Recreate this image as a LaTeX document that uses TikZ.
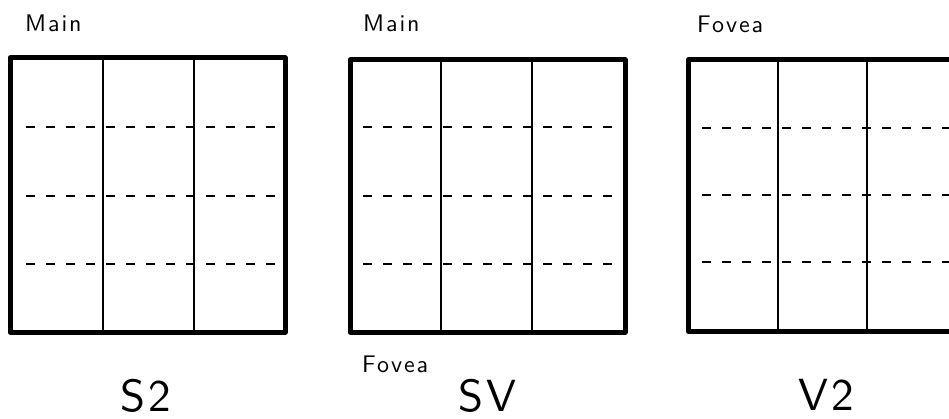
\documentclass[tikz,border=0pt]{standalone}
\usepackage{fontspec}
\newfontfamily\labfont{lmsans10-regular.otf}[LetterSpace=8]
\begin{document}
\begin{tikzpicture}[x=1pt,y=-1pt,
  outer/.style={line width=5pt, line join=round},
  innerline/.style={line width=2.8pt},
  dashline/.style={line width=1.2pt, dash pattern=on 9pt off 11pt},
  small/.style={font=\labfont\fontsize{24}{24}\selectfont, inner sep=0pt, anchor=base west},
  big/.style={font=\labfont\fontsize{45}{45}\selectfont, inner sep=0pt, text depth=0pt, anchor=base west}]
\useasboundingbox (0,0) rectangle (949,419);
\fill[white] (0,0) rectangle (949,419);

% Box S2
\foreach \y in {127,196,264} \draw[dashline] (26,\y) -- (280,\y);
\draw[innerline] (103,58) -- (103,332);
\draw[innerline] (194,58) -- (194,332);
\draw[outer] (10,58) rectangle (285,332);

% Box SV
\foreach \y in {127,196,264} \draw[dashline] (363,\y) -- (618,\y);
\draw[innerline] (441,60) -- (441,332);
\draw[innerline] (532,60) -- (532,332);
\draw[outer] (350,60) rectangle (625,332);

% Box V2
\foreach \y in {128,195,262} \draw[dashline] (702,\y) -- (949,\y);
\draw[innerline] (778,60) -- (778,331);
\draw[innerline] (867,60) -- (867,331);
\draw[outer] (949,60) -- (688,60) -- (688,331) -- (949,331);

% Labels
\node[small] (m1) at (25,32) {Main};
\node[small] (m2) at (363,32) {Main};
\node[small] (f1) at (697,33) {Fovea};
\node[small] (f2) at (362,372) {Fovea};
\node[big] (s2) at (120,411) {S2};
\node[big] (sv) at (458,411) {SV};
\node[big] (v2) at (798,410) {V2};
\end{tikzpicture}
\end{document}
